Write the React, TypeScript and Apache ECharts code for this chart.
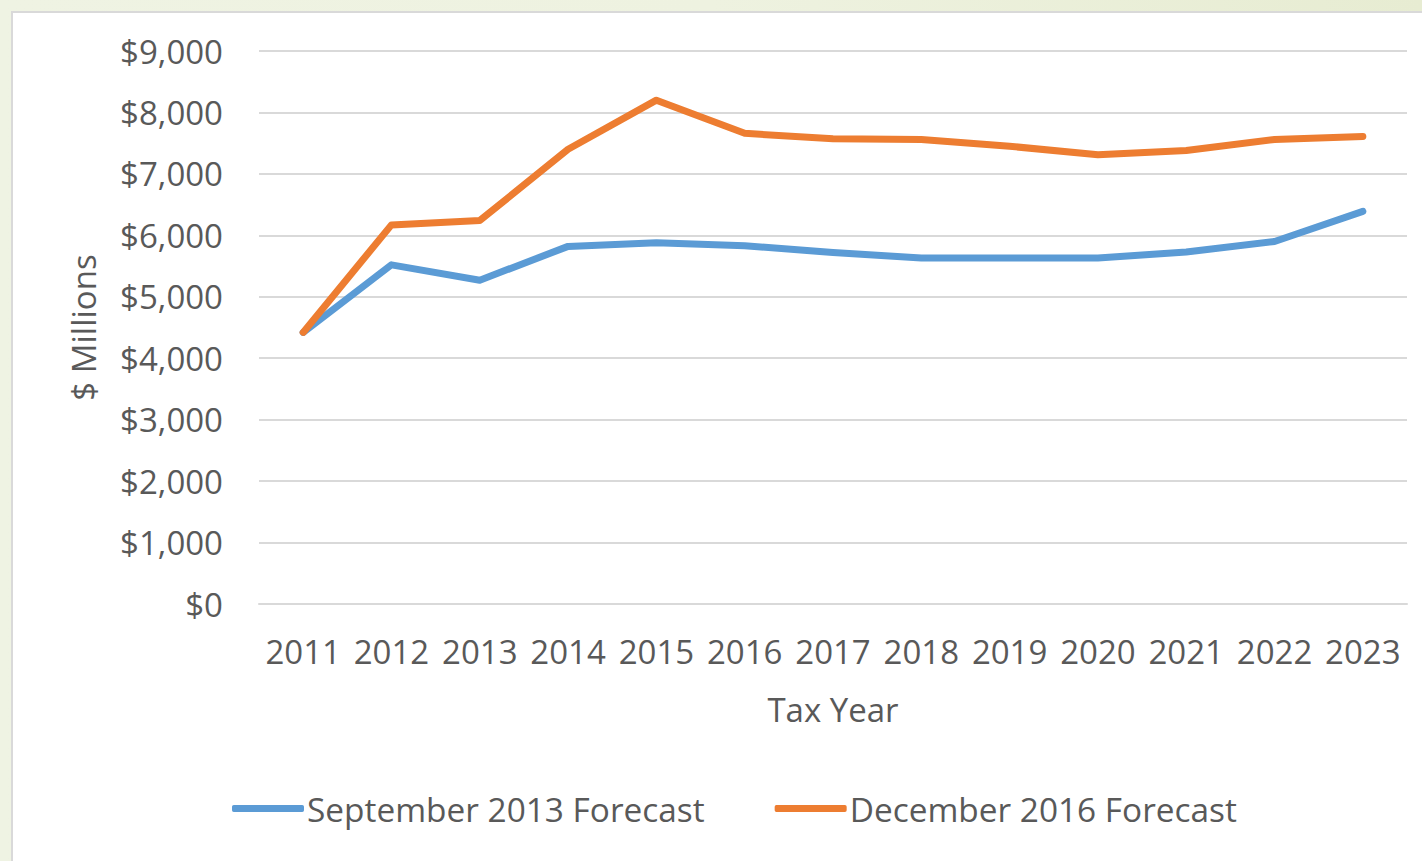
import React, { useEffect, useRef } from "react";
import * as echarts from "echarts";

const years = ["2011", "2012", "2013", "2014", "2015", "2016", "2017", "2018", "2019", "2020", "2021", "2022", "2023"];
const sep2013 = [4420, 5520, 5270, 5820, 5880, 5830, 5720, 5630, 5630, 5630, 5730, 5900, 6390];
const dec2016 = [4420, 6170, 6240, 7400, 8200, 7660, 7570, 7560, 7450, 7310, 7380, 7560, 7610];
const seriesNames = ["September 2013 Forecast", "December 2016 Forecast"];
const yMax = 9000;
const yStep = 1000;

const FONT = "'Open Sans', 'Noto Sans', sans-serif";
const TEXT = "#595959";

export default function App() {
  const ref = useRef<HTMLDivElement>(null);
  useEffect(() => {
    if (!ref.current) return;
    const chart = echarts.init(ref.current, undefined, { renderer: "svg" });
    chart.setOption({
      animation: false,
      backgroundColor: "transparent",
      textStyle: { fontFamily: FONT },
      grid: { left: 259, right: 15, top: 51, bottom: 257, containLabel: false },
      legend: {
        left: 232,
        top: 792,
        padding: 0,
        itemWidth: 72,
        itemHeight: 7,
        itemGap: 70,
        icon: "roundRect",
        textStyle: { color: TEXT, fontSize: 33.4, fontFamily: FONT, padding: [0, 0, 0, -2] },
        data: seriesNames,
      },
      xAxis: {
        type: "category",
        data: years,
        boundaryGap: true,
        name: "Tax Year",
        nameLocation: "middle",
        nameGap: 89,
        nameTextStyle: { color: TEXT, fontSize: 33, fontFamily: FONT, verticalAlign: "top" },
        axisLine: { show: true, lineStyle: { color: "#d9d9d9", width: 2 } },
        axisTick: { show: false },
        axisLabel: { color: TEXT, fontSize: 33, fontFamily: FONT, margin: 31, interval: 0 },
      },
      yAxis: {
        type: "value",
        min: 0,
        max: yMax,
        interval: yStep,
        name: "$ Millions",
        nameLocation: "middle",
        nameGap: 159,
        nameTextStyle: { color: TEXT, fontSize: 33, fontFamily: FONT },
        axisLine: { show: false },
        axisTick: { show: false },
        splitLine: { show: true, lineStyle: { color: "#d9d9d9", width: 2 } },
        axisLabel: {
          color: TEXT,
          fontSize: 33,
          fontFamily: FONT,
          margin: 36,
          formatter: (v: number) => "$" + v.toLocaleString("en-US"),
        },
      },
      series: [
        {
          name: seriesNames[0],
          type: "line",
          data: sep2013,
          symbol: "none",
          color: "#5b9bd5",
          lineStyle: { width: 7, color: "#5b9bd5", cap: "round", join: "round" },
          z: 3,
        },
        {
          name: seriesNames[1],
          type: "line",
          data: dec2016,
          symbol: "none",
          color: "#ed7d31",
          lineStyle: { width: 7, color: "#ed7d31", cap: "round", join: "round" },
          z: 4,
        },
      ],
    });
    return () => chart.dispose();
  }, []);
  return (
    <div
      style={{
        position: "fixed",
        left: 0,
        top: 0,
        width: 1422,
        height: 861,
        background: "linear-gradient(90deg, #eff3e3 0%, #eef2e0 50%, #e7ecd2 100%)",
        overflow: "hidden",
      }}
    >
      <div
        style={{
          position: "absolute",
          left: 11,
          top: 11,
          width: 1440,
          height: 900,
          background: "#ffffff",
          border: "2px solid #d9d9d9",
          boxSizing: "border-box",
        }}
      />
      <div ref={ref} style={{ position: "absolute", left: 0, top: 0, width: 1422, height: 861 }} />
    </div>
  );
}
